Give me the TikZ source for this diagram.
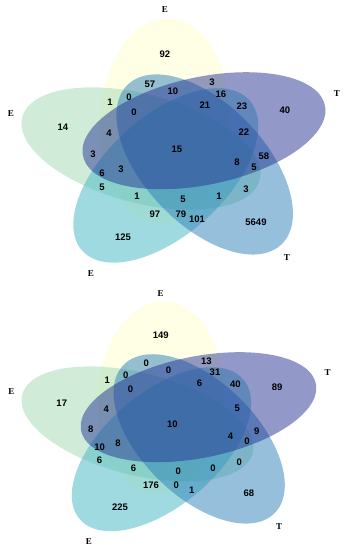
\documentclass[tikz,border=0pt]{standalone}
\usepackage{fontspec}
\setmainfont{Liberation Serif}
\setsansfont{Liberation Sans}

\definecolor{petalyellow}{HTML}{FFFFCC}
\definecolor{petalgreen}{HTML}{A1DAB4}
\definecolor{petalcyan}{HTML}{41B6C4}
\definecolor{petalblue}{HTML}{2C7FB8}
\definecolor{petalnavy}{HTML}{253494}

% five rotated ellipses round (176,148), flattened a little
\newcommand{\vennpetals}{%
  \begin{scope}[shift={(176,148)}, yscale=0.82]
    \foreach \ang/\col in {251/petalyellow, 179/petalgreen, 107/petalcyan, 35/petalblue, 323/petalnavy}{
      \begin{scope}[shift={(\ang:35)}, rotate=-\ang-21]
        \fill[petal, fill=\col] (0,0) ellipse [x radius=125, y radius=65];
      \end{scope}
    }
  \end{scope}}

\begin{document}
\begin{tikzpicture}[x=1pt, y=-1pt,
  petal/.style={fill opacity=0.5, draw=none},
  regnum/.style={font=\sffamily\bfseries\fontsize{9.5}{10}\selectfont, inner sep=0pt},
  setname/.style={font=\rmfamily\bfseries\fontsize{9}{10}\selectfont, inner sep=0pt}
]
\useasboundingbox (0,0) rectangle (345,550);

% Upper diagram
\begin{scope}
  \vennpetals
  \foreach \px/\py/\n [count=\i] in {165/54/92, 150/84/57, 212/82/3, 173/91/10, 221/94/16,
      110/102/1, 129/97/0, 205/105/21, 242/106/23, 285/110/40, 134/112/0, 63/127/14,
      109/133/4, 244/132/22, 93/154/3, 177/149/15, 264/156/58, 237/162/8, 254/167/5,
      102/173/6, 121/169/3, 102/187/5, 137/196/1, 183/199/5, 219/196/1, 246/189/3,
      155/214/97, 181/214/79, 197/219/101, 256/222/5649, 123/237/125}
    \node[regnum] (up\i) at (\px,\py) {\n};
  \node[setname] (upE1) at (165,10) {E};
  \node[setname] (upE2) at (11,114) {E};
  \node[setname] (upT1) at (337,94) {T};
  \node[setname] (upT2) at (287,258) {T};
  \node[setname] (upE3) at (91,274) {E};
\end{scope}

% Lower diagram
\begin{scope}[shift={(0.66,284.3)}, xscale=0.97, yscale=0.94]
  \vennpetals
  \foreach \px/\py/\n [count=\i] in {165/54/149, 150/84/0, 212/82/13, 173/91/0, 221/94/31,
      110/102/1, 129/97/0, 205/105/6, 242/106/40, 285/110/89, 134/112/0, 63/127/17,
      109/133/4, 244/132/5, 93/154/8, 177/149/10, 264/156/9, 237/162/4, 254/167/0,
      102/173/10, 121/169/8, 102/187/6, 137/196/6, 183/199/0, 219/196/0, 246/189/0,
      155/214/176, 181/214/0, 197/219/1, 256/222/68, 123/237/225}
    \node[regnum] (lo\i) at (\px,\py) {\n};
  \node[setname] (loE1) at (165,10) {E};
  \node[setname] (loE2) at (11,114) {E};
  \node[setname] (loT1) at (337,94) {T};
  \node[setname] (loT2) at (287,258) {T};
  \node[setname] (loE3) at (91,274) {E};
\end{scope}
\end{tikzpicture}
\end{document}
